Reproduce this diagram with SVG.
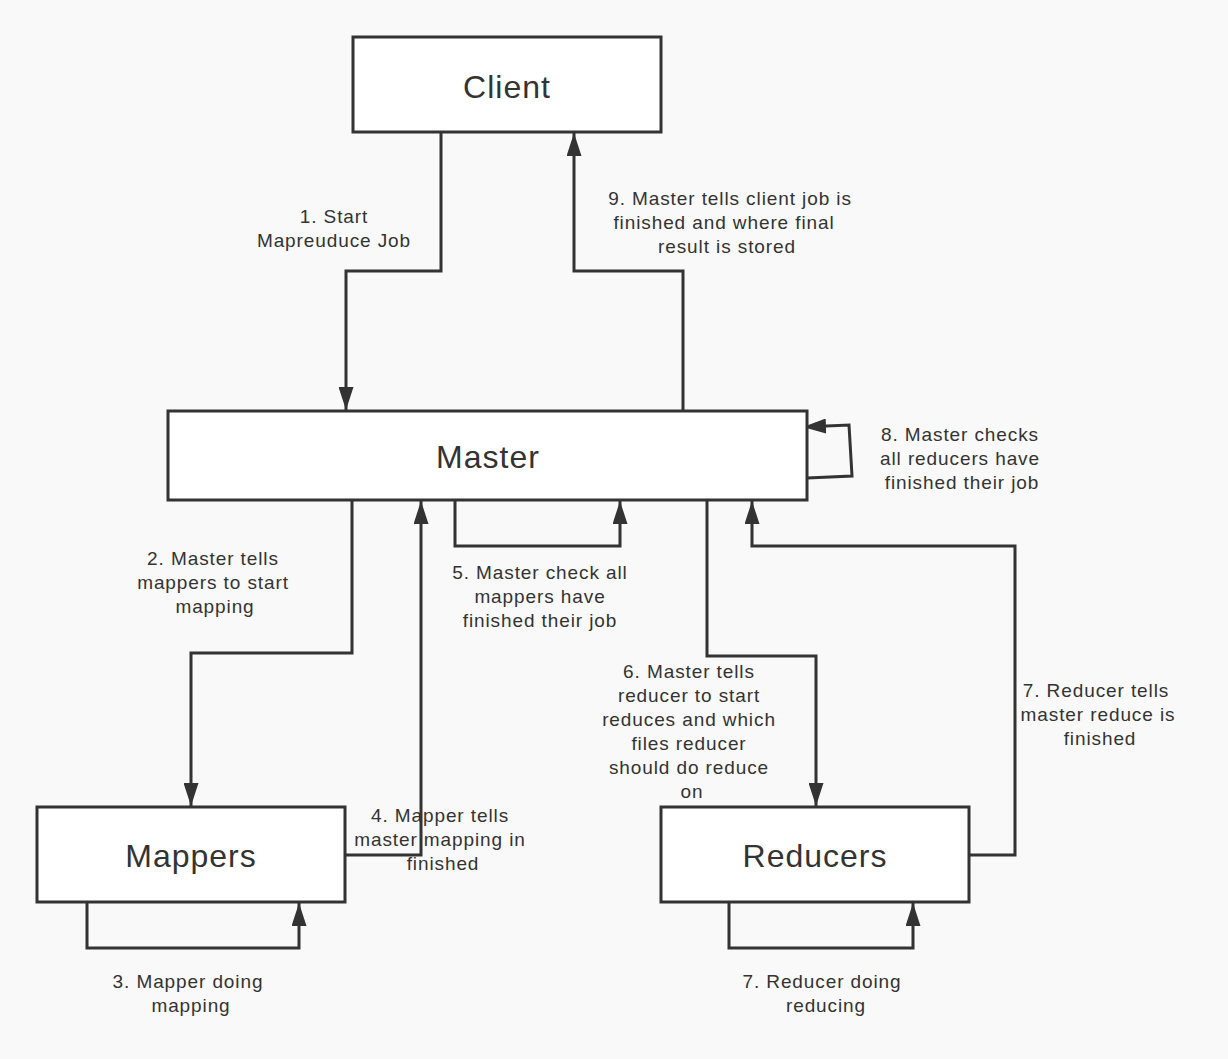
<svg xmlns="http://www.w3.org/2000/svg" width="1228" height="1059" viewBox="0 0 1228 1059">
<style>
.node{fill:#ffffff;stroke:#333333;stroke-width:3}
.nl{font-family:"Liberation Sans",Arial,sans-serif;font-size:32px;letter-spacing:1px;fill:#333333;text-anchor:middle}
.lb{font-family:"Liberation Sans",Arial,sans-serif;font-size:19px;letter-spacing:0.9px;fill:#333333;text-anchor:middle}
.c{fill:none;stroke:#333333;stroke-width:3}
</style>
<defs>
<marker id="ah" markerWidth="23" markerHeight="15" refX="23" refY="7.5" orient="auto" markerUnits="userSpaceOnUse" viewBox="0 0 23 15">
<path d="M0,0 L23,7.5 L0,15 Z" fill="#333333"/>
</marker>
</defs>
<rect x="0" y="0" width="1228" height="1059" fill="#f9f9f9"/>
<g id="connectors">
<path class="c" d="M441,132 V271 H346 V410" marker-end="url(#ah)"/>
<path class="c" d="M683,411 V271 H574 V133" marker-end="url(#ah)"/>
<path class="c" d="M352,497 V653 H191 V806" marker-end="url(#ah)"/>
<path class="c" d="M345,855 H421 V501" marker-end="url(#ah)"/>
<path class="c" d="M455,500 V546 H620 V501" marker-end="url(#ah)"/>
<path class="c" d="M707,500 V656 H816 V806" marker-end="url(#ah)"/>
<path class="c" d="M969,855 H1015 V546 H752 V501" marker-end="url(#ah)"/>
<path class="c" d="M807,478 L852,476 L849,425 L803,427" marker-end="url(#ah)"/>
<path class="c" d="M87,902 V948 H299 V903" marker-end="url(#ah)"/>
<path class="c" d="M729,902 V948 H913 V903" marker-end="url(#ah)"/>
</g>
<g id="client"><rect class="node" x="353" y="37" width="308" height="95"/><text class="nl" x="507" y="98">Client</text></g>
<g id="master"><rect class="node" x="168" y="411" width="639" height="89"/><text class="nl" x="488" y="468">Master</text></g>
<g id="mappers"><rect class="node" x="37" y="807" width="308" height="95"/><text class="nl" x="191" y="867">Mappers</text></g>
<g id="reducers"><rect class="node" x="661" y="807" width="308" height="95"/><text class="nl" x="815" y="867">Reducers</text></g>
<g id="labels">
<text class="lb"><tspan x="334" y="223">1. Start</tspan><tspan x="334" y="247">Mapreuduce Job</tspan></text>
<text class="lb"><tspan x="730" y="205">9. Master tells client job is</tspan><tspan x="724" y="229">finished and where final</tspan><tspan x="727" y="253">result is stored</tspan></text>
<text class="lb"><tspan x="960" y="441">8. Master checks</tspan><tspan x="960" y="465">all reducers have</tspan><tspan x="962" y="489">finished their job</tspan></text>
<text class="lb"><tspan x="213" y="565">2. Master tells</tspan><tspan x="213" y="589">mappers to start</tspan><tspan x="215" y="613">mapping</tspan></text>
<text class="lb"><tspan x="540" y="579">5. Master check all</tspan><tspan x="540" y="603">mappers have</tspan><tspan x="540" y="627">finished their job</tspan></text>
<text class="lb"><tspan x="689" y="678">6. Master tells</tspan><tspan x="689" y="702">reducer to start</tspan><tspan x="689" y="726">reduces and which</tspan><tspan x="689" y="750">files reducer</tspan><tspan x="689" y="774">should do reduce</tspan><tspan x="692" y="798">on</tspan></text>
<text class="lb"><tspan x="1096" y="697">7. Reducer tells</tspan><tspan x="1098" y="721">master reduce is</tspan><tspan x="1100" y="745">finished</tspan></text>
<text class="lb"><tspan x="440" y="822">4. Mapper tells</tspan><tspan x="440" y="846">master mapping in</tspan><tspan x="443" y="870">finished</tspan></text>
<text class="lb"><tspan x="188" y="988">3. Mapper doing</tspan><tspan x="191" y="1012">mapping</tspan></text>
<text class="lb"><tspan x="822" y="988">7. Reducer doing</tspan><tspan x="826" y="1012">reducing</tspan></text>
</g>
</svg>
